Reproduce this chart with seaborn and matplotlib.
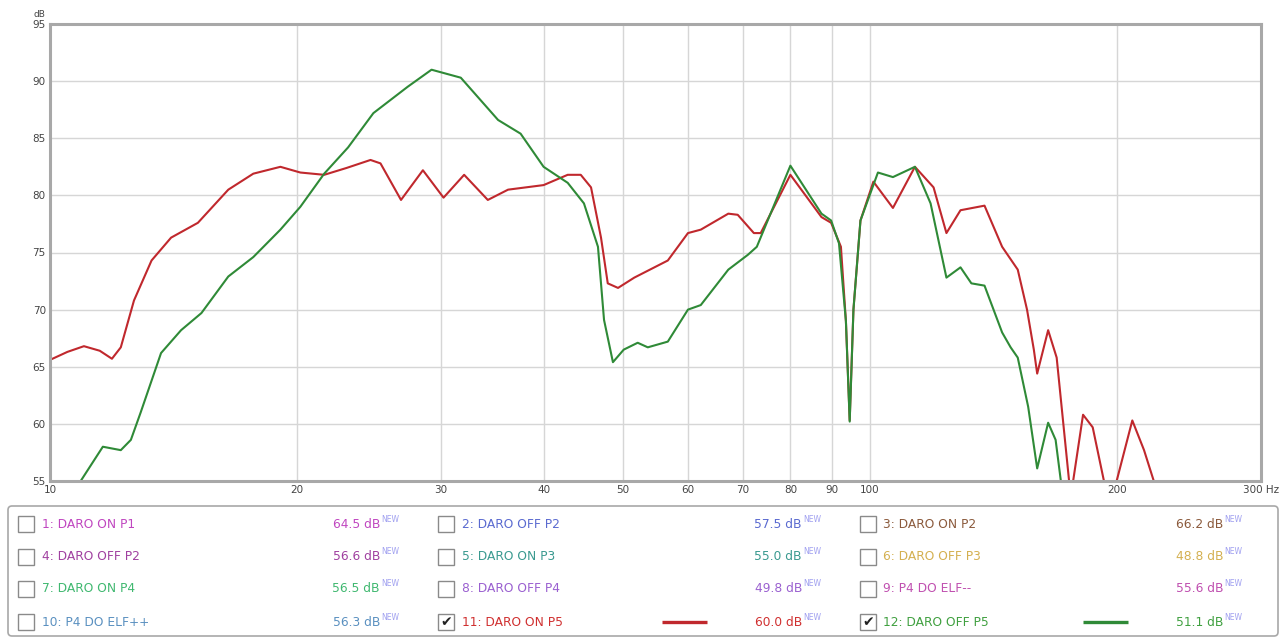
import matplotlib
matplotlib.use("Agg")
import matplotlib.pyplot as plt
import seaborn as sns
import pandas as pd
from matplotlib.patches import FancyBboxPatch, Rectangle

# ── DATA ────────────────────────────────────────────────────
red_freq = [10.0, 10.5, 11.0, 11.5, 11.9, 12.2, 12.66, 13.3, 14.05, 15.15, 16.5, 17.7,
            19.1, 20.2, 21.6, 23.0, 24.6, 25.3, 26.8, 28.5, 30.2, 32.0, 34.2, 36.2,
            40.0, 42.8, 44.4, 45.7, 47.0, 47.9, 49.3, 51.6, 56.7, 60.0, 62.2, 67.2,
            69.0, 72.2, 73.6, 80.0, 87.3, 89.7, 92.2, 93.5, 94.5, 95.5, 97.4, 101.0,
            106.7, 113.5, 119.6, 124.0, 129.0, 138.0, 145.0, 151.5, 155.5, 158.5, 160.0,
            165.0, 169.0, 175.0, 176.0, 177.0, 182.0, 187.0, 193.0, 196.5, 200.0, 209.0,
            216.0, 222.0, 228.0]
red_db = [65.6, 66.3, 66.8, 66.4, 65.7, 66.7, 70.8, 74.3, 76.3, 77.6, 80.5, 81.9,
          82.5, 82.0, 81.8, 82.4, 83.1, 82.8, 79.6, 82.2, 79.8, 81.8, 79.6, 80.5,
          80.9, 81.8, 81.8, 80.7, 76.3, 72.3, 71.9, 72.8, 74.3, 76.7, 77.0, 78.4,
          78.3, 76.7, 76.7, 81.8, 78.1, 77.6, 75.5, 69.0, 60.3, 70.0, 77.8, 81.2,
          78.9, 82.5, 80.7, 76.7, 78.7, 79.1, 75.5, 73.5, 70.0, 66.5, 64.4,
          68.2, 65.8, 55.0, 48.0, 55.0, 60.8, 59.7, 55.0, 49.0, 55.0, 60.3,
          57.7, 55.0, 50.0]

green_freq = [10.6, 10.9, 11.6, 12.2, 12.55, 12.9, 13.66, 14.45, 15.3, 16.5, 17.7, 19.1,
              20.2, 21.6, 23.1, 24.8, 27.3, 29.2, 31.7, 35.2, 37.5, 40.0, 42.8, 44.8,
              46.6, 47.4, 48.6, 50.1, 52.1, 53.6, 56.7, 60.0, 62.2, 67.2, 71.0, 72.8,
              80.0, 87.3, 89.7, 91.7, 93.5, 94.5, 95.5, 97.4, 102.3, 106.7, 113.5, 118.6,
              124.0, 129.0, 133.0, 138.0, 145.0, 148.5, 151.5, 156.0, 160.0, 165.0, 168.5,
              171.0, 173.0]
green_db = [52.0, 55.0, 58.0, 57.7, 58.6, 61.0, 66.2, 68.2, 69.7, 72.9, 74.6, 77.0,
            79.0, 81.9, 84.2, 87.2, 89.5, 91.0, 90.3, 86.6, 85.4, 82.5, 81.1, 79.3,
            75.5, 69.1, 65.4, 66.5, 67.1, 66.7, 67.2, 70.0, 70.4, 73.5, 74.8, 75.5,
            82.6, 78.4, 77.8, 75.8, 69.0, 60.2, 70.0, 77.8, 82.0, 81.6, 82.5, 79.3,
            72.8, 73.7, 72.3, 72.1, 68.0, 66.7, 65.8, 61.5, 56.1, 60.1, 58.6,
            55.0, 50.0]

x_ticks = [10, 20, 30, 40, 50, 60, 70, 80, 90, 100, 200, 300]
x_tick_labels = ["10", "20", "30", "40", "50", "60", "70", "80", "90", "100", "200", "300 Hz"]
y_ticks = [55, 60, 65, 70, 75, 80, 85, 90, 95]

legend_names = ["1: DARO ON P1", "2: DARO OFF P2", "3: DARO ON P2",
                "4: DARO OFF P2", "5: DARO ON P3", "6: DARO OFF P3",
                "7: DARO ON P4", "8: DARO OFF P4", "9: P4 DO ELF--",
                "10: P4 DO ELF++", "11: DARO ON P5", "12: DARO OFF P5"]
legend_values = ["64.5", "57.5", "66.2", "56.6", "55.0", "48.8",
                 "56.5", "49.8", "55.6", "56.3", "60.0", "51.1"]
legend_checked = [False] * 10 + [True, True]

# ── STYLE ───────────────────────────────────────────────────
RED = "#c0282d"
GREEN = "#2f8a37"
label_colors = ["#c046c0", "#5a6ad0", "#8b5a3c", "#a040a0", "#3a9a90", "#d4b050",
                "#40b870", "#9a60d0", "#c050b0", "#5a90c0", "#d03030", "#40a040"]

sns.set_theme(style="white")
plt.rcParams["font.family"] = ["DejaVu Sans"]

W, H = 1283, 638
fig = plt.figure(figsize=(W / 100, H / 100), dpi=100)
fig.patch.set_facecolor("white")

# main plot area in pixel terms: x 50..1261, y 24..481
L, R, T, B = 50, 1261, 24, 481
ax = fig.add_axes([L / W, 1 - B / H, (R - L) / W, (B - T) / H])

df = pd.concat([
    pd.DataFrame({"freq": red_freq, "db": red_db, "series": "11: DARO ON P5"}),
    pd.DataFrame({"freq": green_freq, "db": green_db, "series": "12: DARO OFF P5"}),
])
sns.lineplot(data=df, x="freq", y="db", hue="series", estimator=None, sort=False,
             palette={"11: DARO ON P5": RED, "12: DARO OFF P5": GREEN},
             linewidth=1.5, legend=False, ax=ax)
for ln in ax.get_lines():
    ln.set_solid_joinstyle("round")

ax.set_xscale("log")
ax.set_xlim(10, 300)
ax.set_ylim(55, 95)
ax.set_xticks(x_ticks)
ax.set_xticklabels(x_tick_labels)
ax.xaxis.set_minor_locator(matplotlib.ticker.NullLocator())
ax.set_yticks(y_ticks)
ax.set_yticklabels([str(v) for v in y_ticks])
ax.tick_params(axis="both", length=0, labelsize=7.5, labelcolor="#444444", pad=3)
ax.set_xlabel("")
ax.set_ylabel("")
ax.grid(True, color="#d6d6d6", linewidth=1)
ax.set_axisbelow(True)
for s in ax.spines.values():
    s.set_color("#a8a8a8")
    s.set_linewidth(2.2)
ax.text(-0.004, 1.012, "dB", transform=ax.transAxes, fontsize=6.5, color="#444444",
        ha="right", va="bottom")

# ── LEGEND TABLE ────────────────────────────────────────────
lg = fig.add_axes([0, 0, 1, 1])
lg.set_xlim(0, W)
lg.set_ylim(H, 0)
lg.axis("off")
lg.patch.set_alpha(0)

lg.add_patch(FancyBboxPatch((8, 506), 1270, 130, boxstyle="round,pad=0,rounding_size=4",
                            ec="#a8a8a8", fc="white", lw=1.2))

row_y = [524, 557, 589, 622]
box_x = [18, 438, 860]
name_x = [42, 462, 883]
value_x = [380, 802, 1223]
sample_x = [None, (662, 707), (1083, 1128)]

for i, name in enumerate(legend_names):
    r, c = divmod(i, 3)
    y = row_y[r]
    col = label_colors[i]
    lg.add_patch(Rectangle((box_x[c], y - 8), 16, 16, ec="#8a8a8a", fc="white", lw=1))
    if legend_checked[i]:
        lg.text(box_x[c] + 8, y, "\u2714", ha="center", va="center", fontsize=10, color="#222222")
    lg.text(name_x[c], y, name, ha="left", va="center", fontsize=8.8, color=col)
    lg.text(value_x[c], y, legend_values[i] + " dB", ha="right", va="center", fontsize=8.8, color=col)
    lg.text(value_x[c] + 1, y - 5, "NEW", ha="left", va="center", fontsize=5.5, color="#a0a0f0")
    if legend_checked[i]:
        x0, x1 = sample_x[c]
        lg.plot([x0, x1], [y, y], color=RED if i == 10 else GREEN, lw=2.4, solid_capstyle="butt")

plt.savefig("out.png", dpi=100)
plt.close()
